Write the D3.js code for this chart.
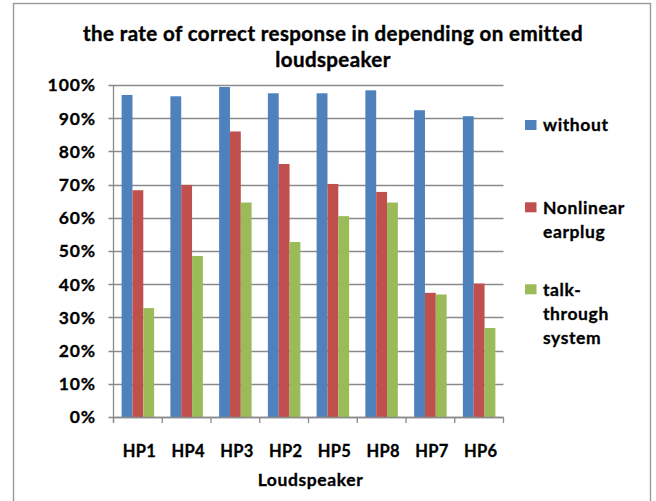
<!DOCTYPE html>
<html>
<head>
<meta charset="utf-8">
<script src="https://cdn.jsdelivr.net/npm/d3@7"></script>
<style>
  body { margin: 0; background: white; }
  svg text { font-family: Lato, "Open Sans", sans-serif; font-weight: bold; fill: #000; stroke: #000; stroke-width: 0.3px; }
</style>
</head>
<body>
<svg id="chart" width="656" height="501"></svg>
<script>
  // Data (percent)
  const
    CATEGORIES = ["HP1", "HP4", "HP3", "HP2", "HP5", "HP8", "HP7", "HP6"],
    WITHOUT = [97.0, 96.6, 99.4, 97.5, 97.5, 98.4, 92.4, 90.6],
    NONLINEAR = [68.3, 69.9, 86.0, 76.2, 70.2, 67.8, 37.4, 40.2],
    TALK_THROUGH = [32.8, 48.5, 64.6, 52.7, 60.5, 64.6, 36.9, 26.8],
    SERIES_NAMES = ["without", "Nonlinear earplug", "talk-through system"],
    LEGEND_LINES = [["without"], ["Nonlinear", "earplug"], ["talk-", "through", "system"]],
    Y_TICKS = [0, 10, 20, 30, 40, 50, 60, 70, 80, 90, 100],
    TITLE_LINES = ["the rate of correct response in depending on emitted", "loudspeaker"],
    X_TITLE = "Loudspeaker"
  ;
  const
    SERIES_VALUES = [WITHOUT, NONLINEAR, TALK_THROUGH],
    COLORS = d3.scaleOrdinal(SERIES_NAMES, ["#4F81BD", "#C0504D", "#9BBB59"]),
    GRID_COLOR = "#8a8a8a"
  ;
  // Geometry
  const
    plot = { left: 113.5, right: 503.5, top: 85, bottom: 417 },
    svg = d3.select("#chart")
  ;
  const
    x_scale = d3.scaleBand()
      .domain(CATEGORIES)
      .range([plot.left, plot.right])
      .paddingInner(1.5 / 4.5)
      .paddingOuter(0.75 / 4.5),
    x_step = d3.scaleBand()
      .domain(CATEGORIES)
      .range([plot.left, plot.right]),
    series_scale = d3.scaleBand()
      .domain(SERIES_NAMES)
      .range([0, x_scale.bandwidth()]),
    y_scale = d3.scaleLinear()
      .domain([0, 100])
      .range([plot.bottom, plot.top])
  ;

  // Outer frame
  svg.append("rect")
    .attr("x", 13.5)
    .attr("y", 3.5)
    .attr("width", 637)
    .attr("height", 520)
    .attr("fill", "none")
    .attr("stroke", "#9a9a9a")
    .attr("stroke-width", 1.4)
  ;
  // Title
  svg.append("text")
    .attr("text-anchor", "middle")
    .style("font-size", "20.5px")
    .style("letter-spacing", "0.4px")
    .style("stroke-width", "0.4px")
    .selectAll("tspan")
      .data(TITLE_LINES).enter()
      .append("tspan")
        .attr("x", 333)
        .attr("y", (d, i) => 40.5 + i * 26)
        .text(d => d)
  ;
  // Horizontal gridlines with their tick marks
  svg.append("g")
    .attr("class", "grid")
    .selectAll("line")
      .data(Y_TICKS).enter()
      .append("line")
        .attr("x1", plot.left - 5)
        .attr("x2", plot.right)
        .attr("y1", d => Math.round(y_scale(d)) + 0.5)
        .attr("y2", d => Math.round(y_scale(d)) + 0.5)
        .attr("stroke", GRID_COLOR)
        .attr("stroke-width", 1.3)
  ;
  // Y axis labels
  svg.append("g")
    .selectAll("text")
      .data(Y_TICKS).enter()
      .append("text")
        .attr("x", 96)
        .attr("y", d => y_scale(d))
        .attr("dy", "0.36em")
        .attr("text-anchor", "end")
        .style("font-size", "17.5px")
        .style("letter-spacing", "0.9px")
        .text(d => d + "%")
  ;
  // Bars
  svg.append("g")
    .selectAll("g")
      .data(CATEGORIES.map((c, i) => ({ category: c, values: SERIES_NAMES.map((s, j) => ({ series: s, value: SERIES_VALUES[j][i] })) })))
      .enter()
      .append("g")
        .attr("transform", d => `translate(${x_scale(d.category)},0)`)
        .selectAll("rect")
          .data(d => d.values).enter()
          .append("rect")
            .attr("x", d => series_scale(d.series))
            .attr("y", d => y_scale(d.value))
            .attr("width", series_scale.bandwidth())
            .attr("height", d => y_scale(0) - y_scale(d.value))
            .attr("fill", d => COLORS(d.series))
  ;
  // Axis lines and category ticks
  const axes = svg.append("g")
    .attr("stroke", GRID_COLOR)
    .attr("stroke-width", 1.3);
  axes.append("line")
    .attr("x1", plot.left).attr("x2", plot.left)
    .attr("y1", plot.top).attr("y2", plot.bottom + 5)
  ;
  axes.selectAll(".xtick")
    .data(CATEGORIES.map(c => x_step(c)).concat([plot.right])).enter()
    .append("line")
      .attr("x1", d => d).attr("x2", d => d)
      .attr("y1", Math.round(y_scale(0)) + 0.5).attr("y2", plot.bottom + 6)
  ;
  axes.append("line")
    .attr("x1", plot.left).attr("x2", plot.right)
    .attr("y1", Math.round(y_scale(0)) + 0.5).attr("y2", Math.round(y_scale(0)) + 0.5)
  ;
  // Category labels
  svg.append("g")
    .selectAll("text")
      .data(CATEGORIES).enter()
      .append("text")
        .attr("x", d => x_step(d) + x_step.bandwidth() / 2 + 1.5)
        .attr("y", 456.5)
        .attr("text-anchor", "middle")
        .style("font-size", "16.5px")
        .style("letter-spacing", "0.2px")
        .text(d => d)
  ;
  // X axis title
  svg.append("text")
    .attr("x", (plot.left + plot.right) / 2 + 2)
    .attr("y", 486)
    .attr("text-anchor", "middle")
    .style("font-size", "17.5px")
    .style("letter-spacing", "0.6px")
    .text(X_TITLE)
  ;
  // Legend
  const LEGEND_TOPS = [125, 207.3, 289.3];
  const legend = svg.append("g")
    .selectAll("g")
      .data(SERIES_NAMES).enter()
      .append("g")
        .attr("transform", (d, i) => `translate(525,${LEGEND_TOPS[i]})`)
  ;
  legend.append("rect")
    .attr("x", 0)
    .attr("y", -5)
    .attr("width", 11.5)
    .attr("height", 10)
    .attr("fill", d => COLORS(d))
  ;
  legend.append("text")
    .style("font-size", "17.5px")
    .style("letter-spacing", "0.6px")
    .selectAll("tspan")
      .data((d, i) => LEGEND_LINES[i]).enter()
      .append("tspan")
        .attr("x", 18)
        .attr("y", (d, i) => i * 24.4)
        .attr("dy", "0.36em")
        .text(d => d)
  ;
</script>
</body>
</html>
